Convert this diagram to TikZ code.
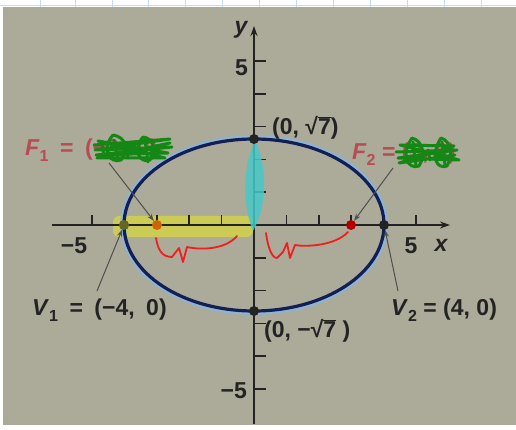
\documentclass[tikz,border=0pt]{standalone}
\usepackage{fontspec}
\setmainfont{Liberation Sans}
\usetikzlibrary{arrows.meta}
\definecolor{paper}{RGB}{172,170,153}
\definecolor{ink}{RGB}{35,35,35}
\definecolor{navy}{RGB}{20,30,80}
\definecolor{halo}{RGB}{140,180,215}
\definecolor{redlab}{RGB}{185,75,85}
\definecolor{scrib}{RGB}{20,135,20}
\definecolor{pen}{RGB}{240,30,30}
\definecolor{hlyellow}{RGB}{225,225,40}
\definecolor{hlcyan}{RGB}{70,200,200}
\definecolor{gridblue}{RGB}{200,220,240}
\newcommand{\rad}[1]{√$\overline{\hbox{#1}}$}
\newcommand{\sbx}[1]{\raisebox{-0.45ex}{\fontsize{16}{16}\selectfont #1}}
\newcommand{\widesp}{\spaceskip=0.5em\relax}
\tikzset{
  lab/.style={font=\fontsize{23}{26}\selectfont\bfseries, text=ink, inner sep=1pt},
  ilab/.style={lab, font=\fontsize{23}{26}\selectfont\bfseries\itshape},
  redl/.style={lab, text=redlab},
  pt/.style={circle, fill=ink, inner sep=0pt, minimum size=10pt},
  axis/.style={draw=ink, line width=2.2pt},
  tick/.style={draw=ink, line width=1.6pt},
  pointer/.style={draw=ink!80, line width=1pt, -{Stealth[length=7pt,width=5pt]}},
  pencil/.style={draw=pen, line width=1.8pt, line cap=round, line join=round},
  scribble/.style={draw=scrib, line width=3pt, line cap=round, line join=round}
}
\begin{document}
\begin{tikzpicture}[x=1pt,y=-1pt]
\useasboundingbox (0,0) rectangle (516,430);
\fill[white] (0,0) rectangle (516,430);
\foreach \gx in {40,75,112,148,185,222,259,296,333,370,407,444,481} \draw[gridblue, line width=0.5pt] (\gx,0) -- (\gx,7);
\draw[gridblue, line width=0.6pt] (0,5) -- (516,5);
\fill[paper] (3,7) rectangle (516,425);
% highlighter under everything else
\fill[hlyellow, opacity=0.6, rounded corners=6pt] (113,216) rectangle (253,237);
% axes
\coordinate (xl) at (52,225);
\coordinate (xr) at (450,225);
\coordinate (yb) at (254,424);
\coordinate (yt) at (254,26);
\draw[axis, -{Stealth[length=10pt,width=7pt]}] (xl) -- (xr);
\draw[axis, -{Stealth[length=10pt,width=7pt]}] (yb) -- (yt);
\foreach \k in {-5,-4,-3,-2,-1,1,2,3,4,5} \draw[tick] (254+32.4*\k,225) -- (254+32.4*\k,215);
\foreach \k in {-5,-4,-3,-2,-1,1,2,3,4,5} \draw[tick] (254,225-32.8*\k) -- (266,225-32.8*\k);
% ellipse
\draw[halo, line width=5.5pt] (254,225) ellipse [x radius=131, y radius=87];
\draw[navy, line width=3.2pt] (254,225) ellipse [x radius=130, y radius=86];
% cyan highlighter
\fill[hlcyan, opacity=0.85] (255,140) .. controls (267,165) and (268,205) .. (253,231) .. controls (242,205) and (243,165) .. (255,140);
% points
\node[pt] (v1) at (124,225) {};
\node[pt] (v2) at (384,225) {};
\node[pt] (b1) at (254,139) {};
\node[pt] (b2) at (254,311) {};
\node[pt, fill=orange!80!black] (f1) at (157,225) {};
\node[pt, fill=red!70!black] (f2) at (351,225) {};
\fill[hlyellow, opacity=0.35] (v1) circle (5pt);
% axis labels
\node[ilab] (ylab) at (241,30) {y};
\node[ilab] (xlab) at (441,245) {x};
\node[lab, anchor=east] (y5) at (249,68) {5};
\node[lab, anchor=east] (ym5) at (248,391) {−5};
\node[lab] (xm5) at (74,246) {−5};
\node[lab] (x5) at (411,246) {5};
% point labels
\node[lab, anchor=west] (b1lab) at (271,128) {(0, \rad{7})};
\node[lab, anchor=west] (b2lab) at (263,331) {(0, −\rad{7} )};
\node[lab, anchor=west] (v1lab) at (31,310) {\widesp\textit{V}\sbx{1} = (−4, 0)};
\node[lab, anchor=west] (v2lab) at (390,310) {\textit{V}\sbx{2} = (4, 0)};
\node[redl, anchor=west] (f1lab) at (24,150) {\widesp\textit{F}\sbx{1} = (−3, 0)};
\node[redl, anchor=west] (f2lab) at (351,154) {\textit{F}\sbx{2} = (3, 0)};
% pointers
\coordinate (f1s) at (109,163);
\coordinate (f2s) at (393,168);
\coordinate (v1s) at (97,291);
\coordinate (v2s) at (398,291);
\draw[pointer] (f1s) -- (f1);
\draw[pointer] (f2s) -- (f2);
\draw[pointer] (v1s) -- (v1);
\draw[pointer] (v2s) -- (v2);
% green scribbles
\draw[scribble] (94,145) -- (170,139) -- (95,150) -- (172,147) -- (96,155) -- (168,153) -- (98,141) -- (165,158) -- (97,158) -- (170,143);
\draw[scribble] (113,135) .. controls (100,150) and (110,164) .. (121,160) .. controls (130,150) and (126,137) .. (113,135);
\draw[scribble] (143,137) .. controls (132,150) and (140,164) .. (150,160) .. controls (157,150) and (153,138) .. (143,137);
\draw[scribble] (114,140) -- (118,160) (145,140) -- (148,162) (124,142) -- (128,158) (102,143) -- (104,157);
\draw[scribble] (396,152) -- (457,150) -- (398,158) -- (459,160) -- (400,145) -- (454,146) -- (399,163) -- (455,155);
\draw[scribble] (412,138) .. controls (400,155) and (408,170) .. (419,166) .. controls (426,155) and (423,141) .. (412,138);
\draw[scribble] (441,138) .. controls (430,155) and (436,170) .. (447,166) .. controls (453,155) and (451,141) .. (441,138);
\draw[scribble] (413,142) -- (416,165) (442,142) -- (445,165) (428,150) -- (430,160);
% red pencil braces
\draw[pencil] (156,238) .. controls (158,250) and (162,257) .. (172,257) -- (179,248) -- (183,262) -- (187,247) .. controls (200,250) and (225,250) .. (237,236);
\draw[pencil] (266,233) .. controls (268,248) and (272,258) .. (277,258) -- (283,252) -- (287,243) -- (290,258) -- (295,245) .. controls (305,247) and (335,246) .. (348,232);
\end{tikzpicture}
\end{document}
